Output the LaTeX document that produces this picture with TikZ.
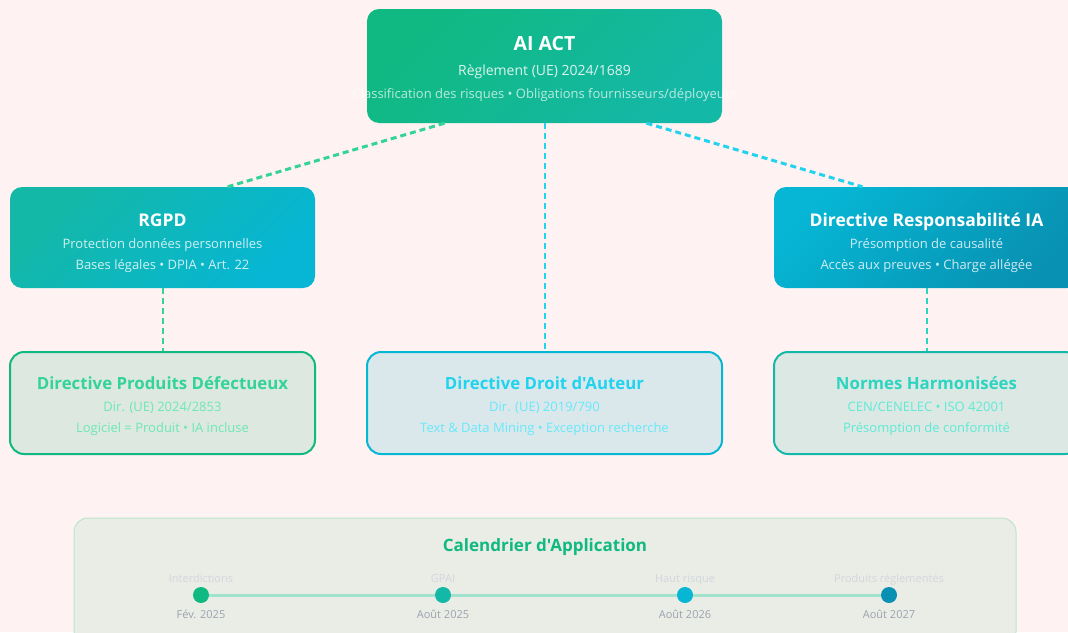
\documentclass[tikz,border=0pt]{standalone}
\usepackage{fontspec}
\setmainfont{Open Sans}[Ligatures=TeXOff]
\usetikzlibrary{positioning}
\definecolor{pagebg}{HTML}{FEF2F2}
\definecolor{emerald}{HTML}{10B981}
\definecolor{emeraldlt}{HTML}{34D399}
\definecolor{emeraldxl}{HTML}{6EE7B7}
\definecolor{teal}{HTML}{14B8A6}
\definecolor{teallt}{HTML}{2DD4BF}
\definecolor{tealxl}{HTML}{5EEAD4}
\definecolor{cyan}{HTML}{06B6D4}
\definecolor{cyanlt}{HTML}{22D3EE}
\definecolor{cyanxl}{HTML}{67E8F9}
\definecolor{cyandk}{HTML}{0891B2}
\definecolor{muted}{HTML}{9CA3AF}
\definecolor{faint}{HTML}{D3D6DE}
\begin{document}
\begin{tikzpicture}[x=1pt,y=-1pt,
    lawbox/.style={rounded corners=12pt,inner sep=0pt,minimum height=101pt,minimum width=305pt},
    subbox/.style={rounded corners=14pt,line width=2pt,inner sep=0pt,minimum height=102pt,minimum width=305pt},
    head/.style={anchor=base,inner sep=0pt,font=\fontsize{17.5}{20}\selectfont\bfseries},
    line/.style={anchor=base,inner sep=0pt,font=\fontsize{13}{15}\selectfont},
    link/.style={dashed,dash pattern=on 6pt off 4pt,line width=2pt},
    dot/.style={circle,inner sep=0pt,minimum size=16pt},
    tltop/.style={anchor=base,inner sep=0pt,font=\fontsize{11}{13}\selectfont,text=faint},
    tlbot/.style={anchor=base,inner sep=0pt,font=\fontsize{11}{13}\selectfont,text=muted}]
    \useasboundingbox (0,0) rectangle (1068,632);
    \fill[pagebg] (0,0) rectangle (1068,632);
    % top row
    \node[lawbox,minimum width=355pt,minimum height=114pt,top color=emerald,bottom color=teal,shading angle=45] (aiact) at (544.5,66) {};
    \node[lawbox,top color=teal,bottom color=cyan,shading angle=45] (rgpd) at (162.5,237.5) {};
    \node[lawbox,top color=cyan,bottom color=cyandk,shading angle=45] (dria) at (926.5,237.5) {};
    \node[head,font=\fontsize{19.5}{22}\selectfont\bfseries,text=white] (aiactT) at (544.5,50) {AI ACT};
    \node[line,font=\fontsize{14}{16}\selectfont,text=white,text opacity=0.85] (aiactA) at (544.5,75) {Règlement (UE) 2024/1689};
    \node[line,text=white,text opacity=0.7] (aiactB) at (544.5,98) {Classification des risques • Obligations fournisseurs/déployeurs};
    \node[head,text=white] (rgpdT) at (162.5,226) {RGPD};
    \node[line,text=white,text opacity=0.8] (rgpdA) at (162.5,248) {Protection données personnelles};
    \node[line,text=white,text opacity=0.8] (rgpdB) at (162.5,269) {Bases légales • DPIA • Art. 22};
    \node[head,text=white] (driaT) at (926.5,226) {Directive Responsabilité IA};
    \node[line,text=white,text opacity=0.8] (driaA) at (926.5,248) {Présomption de causalité};
    \node[line,text=white,text opacity=0.8] (driaB) at (926.5,269) {Accès aux preuves • Charge allégée};
    % bottom row
    \node[subbox,draw=emerald,fill={rgb,255:red,220;green,232;blue,224}] (dpd) at (162.5,403) {};
    \node[subbox,minimum width=355pt,draw=cyan,fill={rgb,255:red,218;green,232;blue,236}] (dda) at (544.5,403) {};
    \node[subbox,draw=teal,fill={rgb,255:red,220;green,232;blue,228}] (nh) at (926.5,403) {};
    \node[head,font=\fontsize{16.8}{19}\selectfont\bfseries,text=emeraldlt] (dpdT) at (162.5,389) {Directive Produits Défectueux};
    \node[line,text=emeraldxl] (dpdA) at (162.5,411) {Dir. (UE) 2024/2853};
    \node[line,text=emeraldxl] (dpdB) at (162.5,432) {Logiciel = Produit • IA incluse};
    \node[head,font=\fontsize{16.8}{19}\selectfont\bfseries,text=cyanlt] (ddaT) at (544.5,389) {Directive Droit d'Auteur};
    \node[line,text=cyanxl] (ddaA) at (544.5,411) {Dir. (UE) 2019/790};
    \node[line,text=cyanxl] (ddaB) at (544.5,432) {Text \& Data Mining • Exception recherche};
    \node[head,font=\fontsize{16.8}{19}\selectfont\bfseries,text=teallt] (nhT) at (926.5,389) {Normes Harmonisées};
    \node[line,text=tealxl] (nhA) at (926.5,411) {CEN/CENELEC • ISO 42001};
    \node[line,text=tealxl] (nhB) at (926.5,432) {Présomption de conformité};
    % links
    \draw[link,line width=3pt,emeraldlt] ([xshift=-100pt]aiact.south) -- ([xshift=65pt]rgpd.north);
    \draw[link,cyanlt] (aiact.south) -- (dda.north);
    \draw[link,line width=3pt,cyanlt] ([xshift=102pt]aiact.south) -- ([xshift=-64pt]dria.north);
    \draw[link,emeraldlt] (rgpd.south) -- (dpd.north);
    \draw[link,teallt] (dria.south) -- (nh.north);
    % timeline
    \node[rounded corners=14pt,draw={rgb,255:red,187;green,230;blue,206},line width=1pt,fill={rgb,255:red,234;green,236;blue,230},minimum width=942pt,minimum height=127pt] (cal) at (545,581.5) {};
    \node[head,font=\fontsize{17}{19}\selectfont\bfseries,text=emerald] (calT) at (545,551) {Calendrier d'Application};
    \node[dot,fill=emerald] (d1) at (201,595) {};
    \node[dot,fill=teal] (d2) at (443,595) {};
    \node[dot,fill=cyan] (d3) at (685,595) {};
    \node[dot,fill=cyandk] (d4) at (889,595) {};
    \foreach \a/\b in {d1/d2,d2/d3,d3/d4}
        \draw[line width=3pt,emerald!40] (\a) -- (\b);
    \node[tltop] (t1) at (201,582) {Interdictions};
    \node[tltop] (t2) at (443,582) {GPAI};
    \node[tltop] (t3) at (685,582) {Haut risque};
    \node[tltop] (t4) at (889,582) {Produits réglementés};
    \node[tlbot] (b1) at (201,618) {Fév. 2025};
    \node[tlbot] (b2) at (443,618) {Août 2025};
    \node[tlbot] (b3) at (685,618) {Août 2026};
    \node[tlbot] (b4) at (889,618) {Août 2027};
\end{tikzpicture}
\end{document}
